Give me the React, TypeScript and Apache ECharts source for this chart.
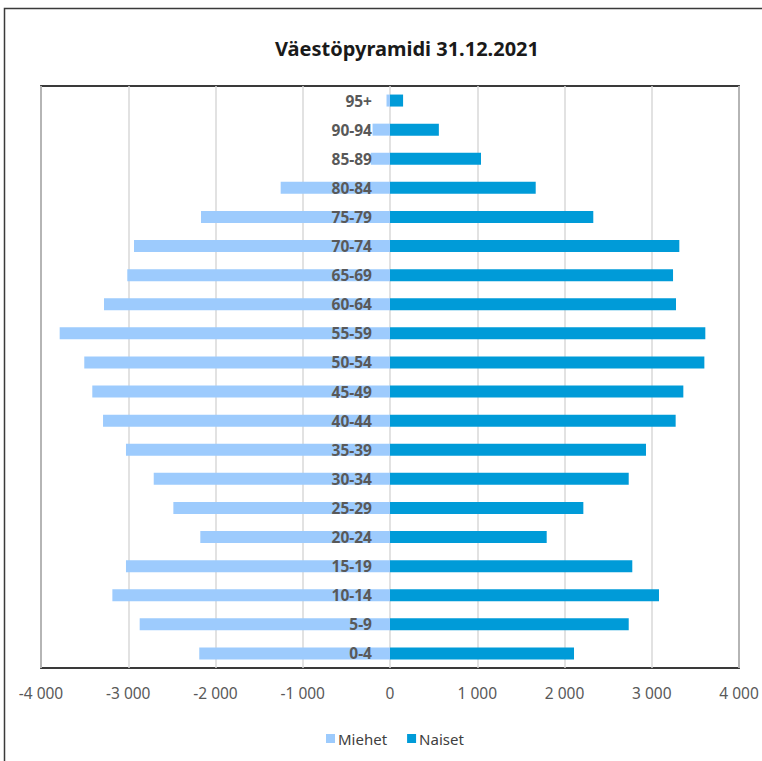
import React, { useEffect, useRef } from "react";
import * as echarts from "echarts";

const categories = ["0-4", "5-9", "10-14", "15-19", "20-24", "25-29", "30-34", "35-39", "40-44", "45-49", "50-54", "55-59", "60-64", "65-69", "70-74", "75-79", "80-84", "85-89", "90-94", "95+"];
const miehet = [-2186, -2869, -3182, -3026, -2174, -2483, -2708, -3026, -3289, -3412, -3504, -3786, -3278, -3011, -2934, -2166, -1253, -220, -200, -40];
const naiset = [2109, 2736, 3083, 2777, 1796, 2216, 2736, 2934, 3274, 3362, 3603, 3614, 3278, 3244, 3316, 2330, 1670, 1043, 560, 150];
const titleText = "Väestöpyramidi 31.12.2021";
const seriesNames = ["Miehet", "Naiset"];

const fmt = (v: number) =>
  (v < 0 ? "-" : "") + String(Math.abs(v)).replace(/\B(?=(\d{3})+(?!\d))/g, " ");

export default function App() {
  const ref = useRef<HTMLDivElement>(null);
  useEffect(() => {
    if (!ref.current) return;
    const chart = echarts.init(ref.current, null, { renderer: "svg" });
    const font = "'Noto Sans', 'Open Sans', sans-serif";
    chart.setOption({
      animation: false,
      backgroundColor: "#ffffff",
      textStyle: { fontFamily: font },
      graphic: [
        {
          type: "rect",
          shape: { x: 4.5, y: 8.5, width: 900, height: 900 },
          style: { fill: "none", stroke: "#3a3a3a", lineWidth: 1.5 },
          silent: true,
        },
        {
          type: "text",
          x: 407,
          y: 48,
          style: {
            text: titleText,
            fontFamily: font,
            fontSize: 20,
            fontWeight: "bold",
            fill: "#1a1a1a",
            textAlign: "center",
            textVerticalAlign: "middle",
          },
        },
      ],
      legend: {
        data: seriesNames,
        left: 321,
        top: 726,
        itemWidth: 9,
        itemHeight: 9,
        itemGap: 20,
        icon: "rect",
        textStyle: { fontFamily: font, fontSize: 15, color: "#404040", padding: [0, 0, 0, -2] },
      },
      grid: {
        left: 41,
        top: 86,
        right: 23,
        bottom: 93,
        show: true,
        borderColor: "#3a3a3a",
        borderWidth: 1.8,
        containLabel: false,
        outerBoundsMode: "none",
      },
      xAxis: {
        type: "value",
        min: -4000,
        max: 4000,
        interval: 1000,
        axisLine: { show: false },
        axisTick: { show: false },
        splitLine: { show: true, lineStyle: { color: "#d9d9d9", width: 1.5 } },
        axisLabel: {
          formatter: fmt,
          margin: 17,
          fontSize: 15.5,
          color: "#595959",
          fontFamily: font,
        },
      },
      yAxis: {
        type: "category",
        data: categories,
        z: 10,
        axisLine: { show: false, onZero: false },
        axisTick: { show: false },
        axisLabel: {
          margin: -331,
          fontSize: 15.5,
          fontWeight: "bold",
          color: "#595959",
          fontFamily: font,
        },
      },
      series: [
        {
          name: seriesNames[0],
          type: "bar",
          data: miehet,
          barWidth: 12,
          barGap: "-100%",
          z: 2,
          itemStyle: { color: "#9dcbfd" },
        },
        {
          name: seriesNames[1],
          type: "bar",
          data: naiset,
          barWidth: 12,
          barGap: "-100%",
          z: 2,
          itemStyle: { color: "#009bd8" },
        },
      ],
    });
    return () => chart.dispose();
  }, []);
  return (
    <div
      ref={ref}
      style={{ position: "fixed", left: 0, top: 0, width: 762, height: 761 }}
    />
  );
}
